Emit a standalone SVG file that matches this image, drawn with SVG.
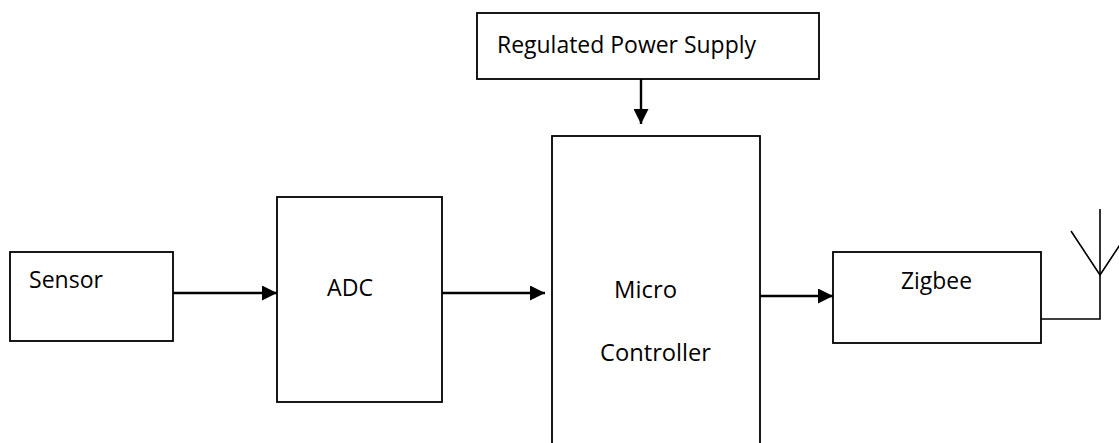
<svg xmlns="http://www.w3.org/2000/svg" width="1119" height="443" viewBox="0 0 1119 443">
  <style>
    .box { fill: #ffffff; stroke: #000000; stroke-width: 1.8; }
    .lbl { font-family: "Open Sans", "Liberation Sans", sans-serif; font-size: 23.5px; fill: #000000; }
    .conn { fill: none; stroke: #000000; stroke-width: 2.4; }
    .ant { fill: none; stroke: #000000; stroke-width: 1.6; }
  </style>
  <defs>
    <marker id="arrow" markerUnits="userSpaceOnUse" markerWidth="15" markerHeight="15" refX="15" refY="7.5" orient="auto">
      <path d="M0,0 L15,7.5 L0,15 Z" fill="#000000"/>
    </marker>
  </defs>
  <rect x="0" y="0" width="1119" height="443" fill="#ffffff"/>

  <g id="power">
    <rect class="box" x="477" y="13" width="342" height="66"/>
    <text class="lbl" x="497" y="53" textLength="259" lengthAdjust="spacingAndGlyphs">Regulated Power Supply</text>
  </g>
  <g id="sensor">
    <rect class="box" x="10" y="252" width="163" height="89"/>
    <text class="lbl" x="29" y="288" textLength="74" lengthAdjust="spacingAndGlyphs">Sensor</text>
  </g>
  <g id="adc">
    <rect class="box" x="277" y="197" width="165" height="205"/>
    <text class="lbl" x="327" y="296" textLength="46" lengthAdjust="spacingAndGlyphs">ADC</text>
  </g>
  <g id="microcontroller">
    <rect class="box" x="552" y="136" width="208" height="320"/>
    <text class="lbl" x="614" y="298" textLength="63" lengthAdjust="spacingAndGlyphs">Micro</text>
    <text class="lbl" x="600" y="361" textLength="111" lengthAdjust="spacingAndGlyphs">Controller</text>
  </g>
  <g id="zigbee">
    <rect class="box" x="833" y="252" width="208" height="91"/>
    <text class="lbl" x="901" y="289" textLength="71" lengthAdjust="spacingAndGlyphs">Zigbee</text>
  </g>
  <g id="antenna">
    <polyline class="ant" points="1071,231 1100,275 1129,231"/>
  </g>

  <g id="connectors">
    <line class="conn" x1="641" y1="79" x2="641" y2="124" marker-end="url(#arrow)"/>
    <line class="conn" x1="173" y1="293" x2="277" y2="293" marker-end="url(#arrow)"/>
    <line class="conn" x1="442" y1="293" x2="545" y2="293" marker-end="url(#arrow)"/>
    <line class="conn" x1="760" y1="296" x2="833" y2="296" marker-end="url(#arrow)"/>
    <polyline class="ant" points="1041,319 1100,319 1100,209"/>
  </g>
</svg>
